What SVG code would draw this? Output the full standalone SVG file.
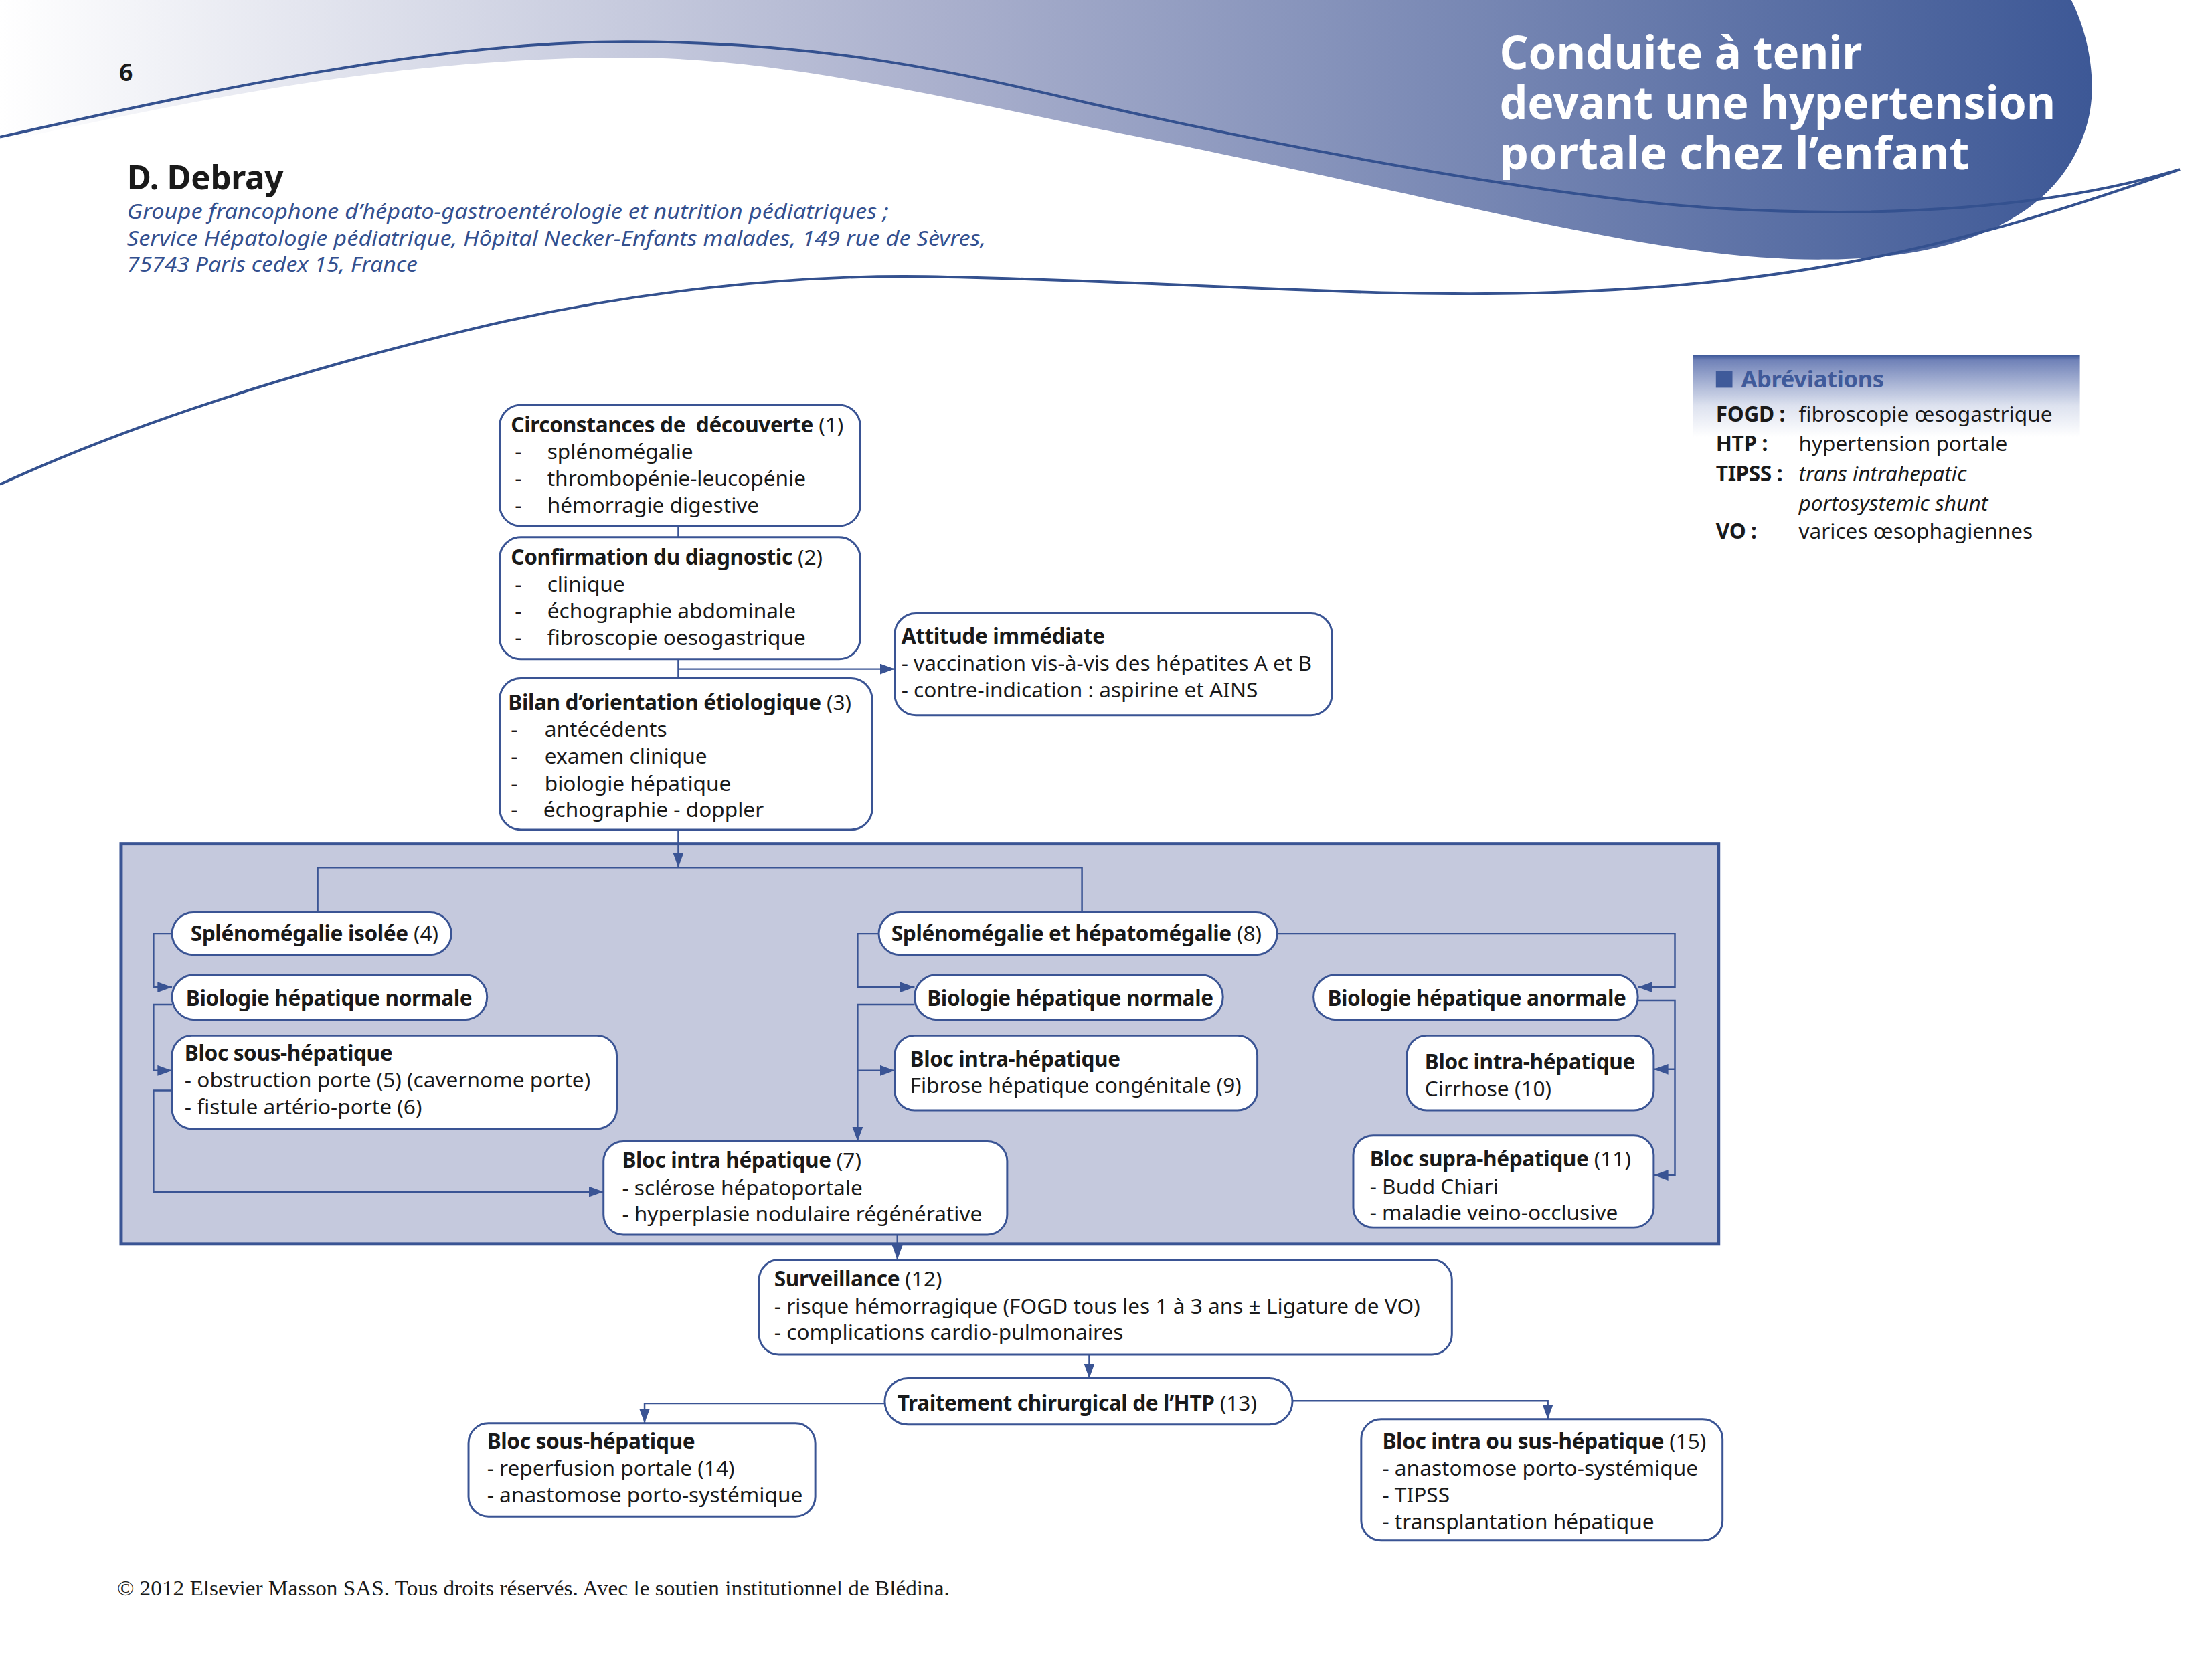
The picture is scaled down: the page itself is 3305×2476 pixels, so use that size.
<svg xmlns="http://www.w3.org/2000/svg" width="3305" height="2476" viewBox="0 0 3305 2476">
<defs>
<linearGradient id="hdr" x1="0" y1="0" x2="3160" y2="0" gradientUnits="userSpaceOnUse">
<stop offset="0" stop-color="#ffffff"/>
<stop offset="0.45" stop-color="#aab0cd"/>
<stop offset="1" stop-color="#3d5896"/>
</linearGradient>
<linearGradient id="abr" x1="0" y1="0" x2="0" y2="1">
<stop offset="0" stop-color="#3f5a9a"/>
<stop offset="0.04" stop-color="#7082b8"/>
<stop offset="0.4" stop-color="#dde2ef"/>
<stop offset="0.65" stop-color="#ffffff"/>
<stop offset="1" stop-color="#ffffff"/>
</linearGradient>
<marker id="ah" markerUnits="userSpaceOnUse" markerWidth="22" markerHeight="16" refX="22" refY="8" orient="auto">
<path d="M0,0 L22,8 L0,16 z" fill="#3a5494"/>
</marker>
<style>
.t{font-family:"Noto Sans","DejaVu Sans",sans-serif;font-size:32px;fill:#1a1a1a}
.b{font-weight:bold;letter-spacing:-0.4px}
.box{fill:#ffffff;stroke:#3a5494;stroke-width:3}
.cn{fill:none;stroke:#3a5494;stroke-width:2.5}
.ar{marker-end:url(#ah)}
.sw{fill:none;stroke:#34518f;stroke-width:4}
.au{font-family:"Noto Sans","DejaVu Sans",sans-serif;font-size:31px;font-style:italic;fill:#34508f}
.ti{font-family:"Noto Sans","DejaVu Sans",sans-serif;font-size:68px;font-weight:bold;fill:#ffffff}
</style>
</defs>

<g id="page" transform="scale(0.98874)">
<g id="header">
<path d="M0,0 H3130 C3160,60 3172,140 3150,200 C3110,320 2980,390 2760,392 C2500,395 2200,300 1650,193 C1350,130 1150,87 947,87 C600,87 300,150 0,215 Z" fill="url(#hdr)"/>
<path class="sw" d="M0,207 C300,140 650,63 947,63 C1250,63 1450,110 1650,157 C1950,225 2350,300 2600,315 C2850,330 3100,315 3294,256"/>
<path class="sw" d="M0,732 C200,640 450,560 714,497 C950,440 1200,415 1400,418 C1800,425 2100,455 2400,440 C2750,425 3000,360 3294,256"/>
<text class="t b" x="180" y="122" style="font-size:36px">6</text>
<text class="ti" x="2266" y="104" textLength="548" lengthAdjust="spacingAndGlyphs">Conduite à tenir</text>
<text class="ti" x="2266" y="180" textLength="840" lengthAdjust="spacingAndGlyphs">devant une hypertension</text>
<text class="ti" x="2266" y="256" textLength="710" lengthAdjust="spacingAndGlyphs">portale chez l’enfant</text>
<text class="t b" x="192" y="286" style="font-size:50px">D. Debray</text>
<text class="au" x="192" y="331" textLength="1151" lengthAdjust="spacingAndGlyphs">Groupe francophone d’hépato-gastroentérologie et nutrition pédiatriques ;</text>
<text class="au" x="192" y="371" textLength="1298" lengthAdjust="spacingAndGlyphs">Service Hépatologie pédiatrique, Hôpital Necker-Enfants malades, 149 rue de Sèvres,</text>
<text class="au" x="192" y="411" textLength="439" lengthAdjust="spacingAndGlyphs">75743 Paris cedex 15, France</text>
</g>

<g id="abbreviations">
<rect x="2558" y="537" width="585" height="190" fill="url(#abr)"/>
<rect x="2593" y="561" width="25" height="25" fill="#3f5a9a"/>
<text class="t b" x="2631" y="586" style="font-size:35px;fill:#3f5a9a">Abréviations</text>
<text class="t b" x="2593" y="637">FOGD :</text>
<text class="t" x="2718" y="637">fibroscopie œsogastrique</text>
<text class="t b" x="2593" y="682">HTP :</text>
<text class="t" x="2718" y="682">hypertension portale</text>
<text class="t b" x="2593" y="727">TIPSS :</text>
<text class="t" x="2718" y="727" font-style="italic">trans intrahepatic</text>
<text class="t" x="2718" y="772" font-style="italic">portosystemic shunt</text>
<text class="t b" x="2593" y="814">VO :</text>
<text class="t" x="2718" y="814">varices œsophagiennes</text>
</g>

<rect id="etiologie-zone" x="183" y="1275" width="2414" height="605" fill="#c5c9dd" stroke="#3a5494" stroke-width="5"/>

<g id="connectors">
<line class="cn" x1="1025" y1="795" x2="1025" y2="812"/>
<line class="cn" x1="1025" y1="996" x2="1025" y2="1025"/>
<line class="cn ar" x1="1025" y1="1011" x2="1352" y2="1011"/>
<line class="cn ar" x1="1025" y1="1254" x2="1025" y2="1311"/>
<path class="cn" d="M480,1379 V1311 H1635 V1379"/>
<path class="cn ar" d="M260,1411 H232 V1492 H260"/>
<path class="cn ar" d="M260,1518 H232 V1618 H260"/>
<path class="cn ar" d="M260,1648 H232 V1801 H912"/>
<path class="cn ar" d="M1328,1411 H1296 V1492 H1382"/>
<path class="cn ar" d="M1382,1518 H1296 V1725"/>
<path class="cn ar" d="M1296,1618 H1352"/>
<path class="cn ar" d="M1930,1411 H2531 V1492 H2475"/>
<path class="cn ar" d="M2475,1512 H2531 V1776 H2499"/>
<path class="cn ar" d="M2531,1616 H2499"/>
<line class="cn ar" x1="1356" y1="1866" x2="1356" y2="1904"/>
<line class="cn ar" x1="1646" y1="2047" x2="1646" y2="2083"/>
<path class="cn ar" d="M1337,2121 H974 V2151"/>
<path class="cn ar" d="M1953,2117 H2339 V2145"/>
</g>

<g id="n1">
<rect class="box" x="755" y="612" width="545" height="183" rx="32"/>
<text class="t" x="772" y="653" xml:space="preserve"><tspan class="b">Circonstances de  découverte</tspan> (1)</text>
<text class="t" x="778" y="694">-</text><text class="t" x="827" y="694">splénomégalie</text>
<text class="t" x="778" y="734">-</text><text class="t" x="827" y="734">thrombopénie-leucopénie</text>
<text class="t" x="778" y="775">-</text><text class="t" x="827" y="775">hémorragie digestive</text>
</g>

<g id="n2">
<rect class="box" x="755" y="812" width="545" height="184" rx="32"/>
<text class="t" x="772" y="854"><tspan class="b">Confirmation du diagnostic</tspan> (2)</text>
<text class="t" x="778" y="894">-</text><text class="t" x="827" y="894">clinique</text>
<text class="t" x="778" y="935">-</text><text class="t" x="827" y="935">échographie abdominale</text>
<text class="t" x="778" y="975">-</text><text class="t" x="827" y="975">fibroscopie oesogastrique</text>
</g>

<g id="n3">
<rect class="box" x="755" y="1025" width="563" height="229" rx="32"/>
<text class="t" x="768" y="1073"><tspan class="b">Bilan d’orientation étiologique</tspan> (3)</text>
<text class="t" x="772" y="1114">-</text><text class="t" x="823" y="1114">antécédents</text>
<text class="t" x="772" y="1154">-</text><text class="t" x="823" y="1154">examen clinique</text>
<text class="t" x="772" y="1195">-</text><text class="t" x="823" y="1195">biologie hépatique</text>
<text class="t" x="772" y="1235">-</text><text class="t" x="821" y="1235">échographie - doppler</text>
</g>

<g id="n4">
<rect class="box" x="1352" y="927" width="661" height="154" rx="32"/>
<text class="t b" x="1362" y="973">Attitude immédiate</text>
<text class="t" x="1362" y="1013">- vaccination vis-à-vis des hépatites A et B</text>
<text class="t" x="1362" y="1054">- contre-indication : aspirine et AINS</text>
</g>

<g id="n5">
<rect class="box" x="260" y="1379" width="422" height="64" rx="32"/>
<text class="t" x="288" y="1422"><tspan class="b">Splénomégalie isolée</tspan> (4)</text>
</g>

<g id="n6">
<rect class="box" x="260" y="1473" width="476" height="68" rx="34"/>
<text class="t b" x="281" y="1520">Biologie hépatique normale</text>
</g>

<g id="n7">
<rect class="box" x="260" y="1565" width="672" height="141" rx="30"/>
<text class="t b" x="279" y="1603">Bloc sous-hépatique</text>
<text class="t" x="279" y="1644">- obstruction porte (5) (cavernome porte)</text>
<text class="t" x="279" y="1684">- fistule artério-porte (6)</text>
</g>

<g id="n8">
<rect class="box" x="912" y="1725" width="610" height="141" rx="30"/>
<text class="t" x="940" y="1765"><tspan class="b">Bloc intra hépatique</tspan> (7)</text>
<text class="t" x="940" y="1806">- sclérose hépatoportale</text>
<text class="t" x="940" y="1846">- hyperplasie nodulaire régénérative</text>
</g>

<g id="n9">
<rect class="box" x="1328" y="1379" width="602" height="64" rx="32"/>
<text class="t" x="1347" y="1422"><tspan class="b">Splénomégalie et hépatomégalie</tspan> (8)</text>
</g>

<g id="n10">
<rect class="box" x="1382" y="1473" width="466" height="68" rx="34"/>
<text class="t b" x="1401" y="1520">Biologie hépatique normale</text>
</g>

<g id="n11">
<rect class="box" x="1985" y="1473" width="490" height="68" rx="34"/>
<text class="t b" x="2006" y="1520">Biologie hépatique anormale</text>
</g>

<g id="n12">
<rect class="box" x="1352" y="1565" width="548" height="113" rx="30"/>
<text class="t b" x="1375" y="1612">Bloc intra-hépatique</text>
<text class="t" x="1375" y="1652">Fibrose hépatique congénitale (9)</text>
</g>

<g id="n13">
<rect class="box" x="2126" y="1565" width="373" height="113" rx="30"/>
<text class="t b" x="2153" y="1616">Bloc intra-hépatique</text>
<text class="t" x="2153" y="1657">Cirrhose (10)</text>
</g>

<g id="n14">
<rect class="box" x="2045" y="1716" width="454" height="139" rx="30"/>
<text class="t" x="2070" y="1763"><tspan class="b">Bloc supra-hépatique</tspan> (11)</text>
<text class="t" x="2070" y="1804">- Budd Chiari</text>
<text class="t" x="2070" y="1844">- maladie veino-occlusive</text>
</g>

<g id="n15">
<rect class="box" x="1147" y="1904" width="1047" height="143" rx="30"/>
<text class="t" x="1170" y="1944"><tspan class="b">Surveillance</tspan> (12)</text>
<text class="t" x="1170" y="1985">- risque hémorragique (FOGD tous les 1 à 3 ans ± Ligature de VO)</text>
<text class="t" x="1170" y="2025">- complications cardio-pulmonaires</text>
</g>

<g id="n16">
<rect class="box" x="1337" y="2083" width="616" height="70" rx="35"/>
<text class="t" x="1356" y="2132"><tspan class="b">Traitement chirurgical de l’HTP</tspan> (13)</text>
</g>

<g id="n17">
<rect class="box" x="708" y="2151" width="524" height="141" rx="30"/>
<text class="t b" x="736" y="2190">Bloc sous-hépatique</text>
<text class="t" x="736" y="2230">- reperfusion portale (14)</text>
<text class="t" x="736" y="2271">- anastomose porto-systémique</text>
</g>

<g id="n18">
<rect class="box" x="2057" y="2145" width="546" height="183" rx="30"/>
<text class="t" x="2089" y="2190"><tspan class="b">Bloc intra ou sus-hépatique</tspan> (15)</text>
<text class="t" x="2089" y="2230">- anastomose porto-systémique</text>
<text class="t" x="2089" y="2271">- TIPSS</text>
<text class="t" x="2089" y="2311">- transplantation hépatique</text>
</g>

<text id="footer" x="177" y="2411" style="font-family:'Liberation Serif','Times New Roman',serif;font-size:32px;fill:#1a1a1a" textLength="1258" lengthAdjust="spacingAndGlyphs">© 2012 Elsevier Masson SAS. Tous droits réservés. Avec le soutien institutionnel de Blédina.</text>
</g>
</svg>
